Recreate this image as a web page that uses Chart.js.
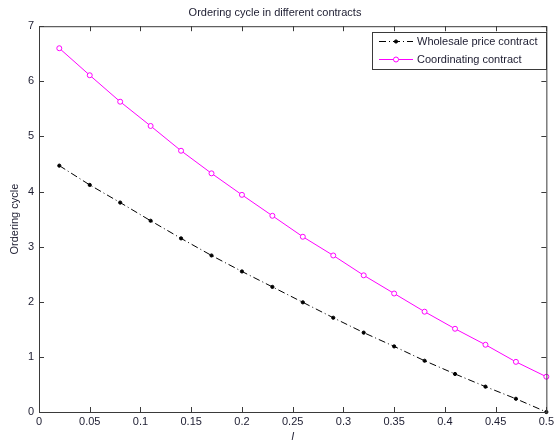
<!DOCTYPE html>
<html>
<head>
<meta charset="utf-8">
<script src="https://cdn.jsdelivr.net/npm/chart.js@4"></script>
<style>
  html, body { margin: 0; padding: 0; background: #fff; }
  canvas { display: block; }
</style>
</head>
<body>
<canvas id="chart" width="557" height="445"></canvas>
<script>
const xValues = [0.02, 0.05, 0.08, 0.11, 0.14, 0.17, 0.20, 0.23, 0.26, 0.29, 0.32, 0.35, 0.38, 0.41, 0.44, 0.47, 0.50];
const wholesale = [4.47, 4.12, 3.80, 3.47, 3.15, 2.84, 2.55, 2.27, 1.99, 1.71, 1.44, 1.19, 0.93, 0.69, 0.46, 0.24, 0.0];
const coordinating = [6.60, 6.11, 5.63, 5.19, 4.74, 4.33, 3.94, 3.56, 3.18, 2.84, 2.48, 2.15, 1.82, 1.51, 1.22, 0.91, 0.64];
const seriesNames = ['Wholesale price contract', 'Coordinating contract'];

const FONT = 'Arial, "Liberation Sans", sans-serif';
const AXIS = '#3a3a3a';
const TEXT = '#1c1c30';

function toPoints(ys) {
  return xValues.map((x, i) => ({ x: x, y: ys[i] }));
}

// box round the plot + inward ticks on all four sides (matlab style)
const frame = {
  id: 'frame',
  afterDatasetsDraw(chart) {
    const { ctx, chartArea: a, scales } = chart;
    const len = 5;
    ctx.save();
    ctx.strokeStyle = AXIS;
    ctx.lineWidth = 1;
    ctx.strokeRect(a.left + 0.5, a.top + 0.5, a.right - a.left, a.bottom - a.top);
    ctx.beginPath();
    scales.x.ticks.forEach((t) => {
      const px = Math.round(scales.x.getPixelForValue(t.value)) + 0.5;
      ctx.moveTo(px, a.bottom); ctx.lineTo(px, a.bottom - len);
      ctx.moveTo(px, a.top); ctx.lineTo(px, a.top + len);
    });
    scales.y.ticks.forEach((t) => {
      const py = Math.round(scales.y.getPixelForValue(t.value)) + 0.5;
      ctx.moveTo(a.left, py); ctx.lineTo(a.left + len, py);
      ctx.moveTo(a.right, py); ctx.lineTo(a.right - len, py);
    });
    ctx.stroke();

    // legend
    const lx = 372, ly = 32, lw = 174, lh = 37;
    ctx.fillStyle = '#fff';
    ctx.fillRect(lx, ly, lw, lh);
    ctx.strokeRect(lx + 0.5, ly + 0.5, lw, lh);
    ctx.font = '11px ' + FONT;
    ctx.textBaseline = 'middle';
    const rows = [41.5, 59.5];
    chart.data.datasets.forEach((ds, i) => {
      const y = rows[i];
      ctx.beginPath();
      ctx.strokeStyle = ds.borderColor;
      ctx.setLineDash(ds.borderDash || []);
      ctx.moveTo(379, y); ctx.lineTo(413, y);
      ctx.stroke();
      ctx.setLineDash([]);
      ctx.beginPath();
      ctx.arc(396, y, ds.pointRadius, 0, Math.PI * 2);
      ctx.fillStyle = ds.pointBackgroundColor;
      ctx.fill();
      ctx.strokeStyle = ds.pointBorderColor;
      ctx.stroke();
      ctx.fillStyle = TEXT;
      ctx.fillText(seriesNames[i], 417, y);
    });
    ctx.restore();
  }
};

new Chart(document.getElementById('chart'), {
  type: 'line',
  data: {
    datasets: [
      {
        label: seriesNames[0],
        data: toPoints(wholesale),
        borderColor: '#000',
        borderWidth: 1,
        borderDash: [7, 3, 1, 3],
        pointRadius: 1.6,
        pointBackgroundColor: '#000',
        pointBorderColor: '#000',
        pointBorderWidth: 1,
        tension: 0,
        clip: false,
      },
      {
        label: seriesNames[1],
        data: toPoints(coordinating),
        borderColor: '#ff00ff',
        borderWidth: 1,
        pointRadius: 2.5,
        pointBackgroundColor: '#fff',
        pointBorderColor: '#ff00ff',
        pointBorderWidth: 1,
        tension: 0,
        clip: false,
      },
    ],
  },
  options: {
    responsive: false,
    animation: false,
    layout: { padding: { left: 0, right: 7, top: 0, bottom: 0 } },
    plugins: {
      legend: { display: false },
      tooltip: { enabled: false },
      title: {
        display: true,
        text: 'Ordering cycle in different contracts',
        color: TEXT,
        font: { family: FONT, size: 11, weight: 'normal' },
        padding: { top: 6, bottom: 7 },
      },
    },
    scales: {
      x: {
        type: 'linear',
        min: 0,
        max: 0.5,
        ticks: {
          stepSize: 0.05,
          color: TEXT,
          font: { family: FONT, size: 11 },
          padding: 3,
          maxRotation: 0,
          callback: (v) => +v.toFixed(2),
        },
        grid: { display: false, drawTicks: false },
        border: { display: false },
        title: {
          display: true,
          text: 'l',
          color: TEXT,
          font: { family: FONT, size: 11, style: 'italic' },
          padding: { top: 0, bottom: 1 },
        },
        afterFit: (s) => { s.height = 33; },
      },
      y: {
        min: 0,
        max: 7,
        ticks: {
          stepSize: 1,
          color: TEXT,
          font: { family: FONT, size: 11 },
          padding: 5,
        },
        grid: { display: false, drawTicks: false },
        border: { display: false },
        title: {
          display: true,
          text: 'Ordering cycle',
          color: TEXT,
          font: { family: FONT, size: 11 },
          padding: { top: 8, bottom: 0 },
        },
        afterFit: (s) => { s.width = 39; },
      },
    },
  },
  plugins: [frame],
});
</script>
</body>
</html>
